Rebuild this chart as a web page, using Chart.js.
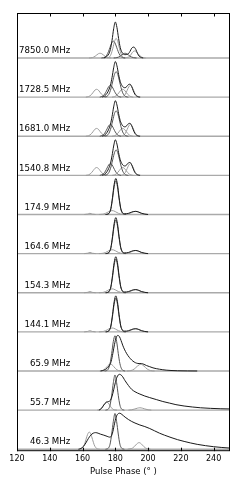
<!DOCTYPE html>
<html>
<head>
<meta charset="utf-8">
<script src="https://cdn.jsdelivr.net/npm/chart.js@4"></script>
<style>
  html, body { margin: 0; padding: 0; background: #fff; }
  canvas { display: block; }
</style>
</head>
<body>
<canvas id="profiles" width="240" height="489"></canvas>
<script>
// frequency labels, bottom panel first
const freqLabels = ['46.3 MHz', '55.7 MHz', '65.9 MHz', '144.1 MHz', '154.3 MHz', '164.6 MHz',
  '174.9 MHz', '1540.8 MHz', '1681.0 MHz', '1728.5 MHz', '7850.0 MHz'];
const xTicks = [120, 140, 160, 180, 200, 220, 240];

// [phase (deg), intensity], 1 unit = panel spacing
const baseline = [[120, 0], [250, 0]];

// 7850 MHz
const total7850 = [[173,0],[174.5,0.03],[176,0.1],[177,0.22],[178,0.45],[179,0.75],[180,0.92],[181,0.78],[182,0.5],[183,0.27],[184,0.15],[185,0.1],[186,0.085],[187,0.09],[188,0.11],[189,0.17],[190,0.25],[191.3,0.28],[192.5,0.22],[193.5,0.12],[194.5,0.05],[196,0.01],[197,0]];
const compA7850 = [[171.5,0],[172.8,0.008],[173.8,0.027],[174.8,0.073],[175.8,0.16],[176.8,0.275],[177.8,0.385],[178.8,0.43],[179.8,0.385],[180.8,0.275],[181.8,0.16],[182.8,0.073],[183.8,0.027],[184.8,0.008],[186,0]];
const compB7850 = [[175,0],[176.5,0.03],[177.5,0.105],[178.5,0.25],[179.5,0.42],[180.5,0.5],[181.5,0.42],[182.5,0.25],[183.5,0.105],[184.5,0.03],[186,0]];
const compC7850 = [[164,0],[166,0.01],[167.7,0.045],[169.7,0.11],[170.7,0.12],[171.7,0.11],[173.7,0.045],[175.7,0.01],[177.5,0]];
const compD7850 = [[185,0],[186.8,0.01],[188.8,0.045],[190.8,0.16],[191.8,0.18],[192.8,0.16],[194.8,0.065],[196.8,0.01],[198.5,0]];
const compE7850 = [[179,0],[181,0.01],[183,0.045],[185,0.11],[186,0.12],[187,0.11],[189,0.045],[191,0.01],[193,0]];

// 1540.8 - 1728.5 MHz
const totalL = [[172,0],[173.5,0.03],[175,0.1],[176,0.18],[177,0.3],[178,0.5],[179,0.75],[180,0.91],[181,0.8],[182,0.58],[183,0.4],[184,0.3],[185,0.25],[186,0.24],[187,0.27],[188,0.32],[189,0.33],[190,0.27],[191,0.16],[192,0.07],[193.5,0.015],[195,0]];
const mainL = [[173.5,0],[174.5,0.012],[175.5,0.04],[176.5,0.11],[177.5,0.24],[178.5,0.416],[179.5,0.58],[180.5,0.65],[181.5,0.58],[182.5,0.416],[183.5,0.24],[184.5,0.11],[185.5,0.04],[186.5,0.012],[188,0]];
const leadL = [[170.5,0],[172,0.019],[173,0.05],[174,0.11],[175,0.19],[176,0.27],[177,0.3],[178,0.27],[179,0.19],[180,0.11],[181,0.05],[182,0.019],[183.5,0]];
const leftL = [[162,0],[163.6,0.0125],[164.6,0.034],[165.6,0.074],[166.6,0.128],[167.6,0.18],[168.6,0.2],[169.6,0.18],[170.6,0.128],[171.6,0.074],[172.6,0.034],[173.6,0.0125],[175,0]];
const rightL = [[183.5,0],[185.2,0.03],[186.2,0.08],[187.2,0.17],[188.2,0.26],[189.2,0.3],[190.2,0.26],[191.2,0.17],[192.2,0.08],[193.2,0.03],[194.5,0.007],[195.5,0]];
const midL = [[178,0],[179.5,0.0125],[180.5,0.034],[181.5,0.074],[182.5,0.128],[183.5,0.18],[184.5,0.2],[185.5,0.18],[186.5,0.128],[187.5,0.074],[188.5,0.034],[189.5,0.0125],[191,0]];

// 144.1 - 174.9 MHz
const totalM = [[174,0],[175.3,0.01],[176.3,0.04],[177.3,0.15],[178.3,0.44],[179.3,0.77],[180.3,0.92],[181.3,0.77],[182.3,0.44],[183.3,0.16],[184.3,0.05],[185.5,0.02],[187,0.02],[189,0.045],[191,0.075],[192.5,0.08],[194,0.065],[196,0.03],[198,0.01],[200,0]];
const mainM = [[174.5,0],[175.3,0.007],[176.3,0.04],[177.3,0.15],[178.3,0.4],[179.3,0.71],[180.3,0.86],[181.3,0.71],[182.3,0.4],[183.3,0.15],[184.3,0.04],[185.3,0.007],[186.5,0]];
const broadM = [[170,0],[172,0.006],[173,0.0145],[174,0.029],[175,0.05],[176,0.074],[177,0.093],[178,0.1],[179,0.093],[180,0.074],[181,0.05],[182,0.029],[183,0.0145],[184,0.006],[186,0]];
const rightM = [[185,0],[186.5,0.005],[188.5,0.023],[190.5,0.059],[191.5,0.074],[192.5,0.08],[193.5,0.074],[194.5,0.059],[196.5,0.023],[198.5,0.005],[200,0]];
const leftM = [[161,0],[163,0.01],[164.5,0.03],[166,0.01],[168,0]];

// 65.9 MHz
const scat659 = [[171,0],[173,0.02],[175,0.07],[176.5,0.15],[177.5,0.25],[178.5,0.45],[179.5,0.68],[180.5,0.85],[181.5,0.91],[182.5,0.88],[183.5,0.78],[184.5,0.66],[185.5,0.56],[187,0.44],[188.5,0.35],[190,0.28],[191.5,0.23],[193,0.2],[194.5,0.19],[196,0.19],[197.5,0.17],[199,0.14],[201,0.11],[203,0.08],[205,0.06],[207,0.045],[209,0.032],[211,0.022],[214,0.013],[218,0.006],[224,0.002],[230,0]];
const narrow659 = [[173.5,0],[174.8,0.012],[175.8,0.056],[176.8,0.19],[177.8,0.45],[178.8,0.757],[179.8,0.9],[180.8,0.757],[181.8,0.45],[182.8,0.19],[183.8,0.056],[184.8,0.012],[186,0]];
const left659 = [[170.5,0],[172,0.011],[173,0.03],[174,0.067],[175,0.115],[176,0.16],[177,0.18],[178,0.16],[179,0.115],[180,0.067],[181,0.03],[182,0.011],[183.5,0]];
const right659 = [[187,0],[188.5,0.004],[189.5,0.011],[190.5,0.025],[191.5,0.049],[192.5,0.085],[193.5,0.125],[194.5,0.157],[195.5,0.17],[196.5,0.157],[197.5,0.125],[198.5,0.085],[199.5,0.049],[200.5,0.025],[201.5,0.011],[202.5,0.004],[204,0]];

// 55.7 MHz
const scat557 = [[170,0],[171.5,0.04],[173,0.13],[174.5,0.2],[176,0.22],[177,0.25],[178,0.35],[179,0.52],[180,0.7],[181,0.84],[182.5,0.915],[184,0.88],[186,0.75],[188,0.63],[190,0.53],[192,0.47],[195,0.41],[198,0.36],[201,0.32],[205,0.27],[209,0.22],[213,0.18],[217,0.14],[222,0.105],[227,0.08],[232,0.06],[238,0.045],[244,0.035],[250,0.03]];
const narrow557 = [[174,0],[175.8,0.029],[176.8,0.13],[177.8,0.38],[178.8,0.7],[179.8,0.9],[180.8,0.7],[181.8,0.38],[182.8,0.13],[183.8,0.029],[185.5,0]];
const left557 = [[169,0],[170.2,0.005],[170.7,0.02],[171.7,0.055],[172.7,0.12],[173.7,0.18],[174.7,0.21],[175.7,0.18],[176.7,0.12],[177.7,0.055],[178.7,0.02],[179.7,0.005],[181,0]];
const right557 = [[188,0],[190,0.009],[192,0.03],[193.5,0.05],[195,0.06],[196.5,0.05],[198,0.03],[200,0.009],[202,0]];

// 46.3 MHz
const scat463 = [[157.5,0],[159,0.02],[160.5,0.07],[162,0.16],[163.5,0.27],[165,0.36],[166.5,0.41],[168,0.425],[169.5,0.41],[171,0.385],[173,0.36],[175,0.33],[176.5,0.31],[177.5,0.33],[178.5,0.45],[179.5,0.65],[180.5,0.82],[181.5,0.9],[182.8,0.92],[184,0.89],[186,0.82],[188,0.76],[190,0.71],[192,0.67],[195,0.62],[198,0.58],[201,0.53],[204,0.47],[207,0.41],[210,0.36],[214,0.3],[218,0.245],[222,0.2],[226,0.16],[230,0.125],[235,0.092],[240,0.065],[245,0.045],[250,0.03]];
const narrow463 = [[174,0],[175.8,0.03],[176.8,0.13],[177.8,0.39],[178.8,0.71],[179.8,0.915],[180.8,0.71],[181.8,0.39],[182.8,0.13],[183.8,0.03],[185.5,0]];
const left463 = [[158,0],[159.1,0.01],[160.1,0.04],[161.1,0.115],[162.1,0.25],[163.1,0.38],[164.1,0.44],[165.1,0.38],[166.1,0.25],[167.1,0.115],[168.1,0.04],[169.1,0.01],[170.5,0]];
const right463 = [[187.5,0],[189,0.01],[190.5,0.03],[191.5,0.065],[192.5,0.11],[193.5,0.15],[194.5,0.17],[195.5,0.15],[196.5,0.11],[197.5,0.065],[198.5,0.03],[200,0.01],[201.5,0]];

// which curves go in which panel (bottom to top)
const panels = [
  { black: [scat463], dark: [narrow463], gray: [left463, right463] },
  { black: [scat557], dark: [narrow557], gray: [left557, right557] },
  { black: [scat659], dark: [narrow659], gray: [left659, right659] },
  { black: [totalM], dark: [mainM], gray: [broadM, rightM, leftM] },
  { black: [totalM], dark: [mainM], gray: [broadM, rightM, leftM] },
  { black: [totalM], dark: [mainM], gray: [broadM, rightM, leftM] },
  { black: [totalM], dark: [mainM], gray: [broadM, rightM, leftM] },
  { black: [totalL], dark: [mainL, leadL], gray: [leftL, rightL, midL] },
  { black: [totalL], dark: [mainL, leadL], gray: [leftL, rightL, midL] },
  { black: [totalL], dark: [mainL, leadL], gray: [leftL, rightL, midL] },
  { black: [total7850], dark: [compA7850, compE7850], gray: [compB7850, compC7850, compD7850] }
];

const line = (pts, off, color, width, order) => ({
  data: pts.map(([p, v]) => ({ x: p, y: v + off })),
  borderColor: color,
  borderWidth: width,
  pointRadius: 0,
  fill: false,
  cubicInterpolationMode: 'monotone',
  order: order
});

const datasets = [];
panels.forEach((p, i) => {
  datasets.push(line(baseline, i, '#aaaaaa', 1.4, 3));
  p.gray.forEach(c => datasets.push(line(c, i, '#9c9c9c', 1, 2)));
  p.dark.forEach(c => datasets.push(line(c, i, '#555555', 1, 1)));
  p.black.forEach(c => datasets.push(line(c, i, '#1a1a1a', 1, 0)));
});

// frame, inward ticks and frequency labels
const decor = {
  id: 'decor',
  afterDraw(chart) {
    const { ctx, chartArea: a, scales: { x, y } } = chart;
    ctx.save();
    ctx.strokeStyle = '#000';
    ctx.lineWidth = 1;
    ctx.strokeRect(a.left + 0.5, a.top + 0.5, a.right - a.left - 1, a.bottom - a.top - 1);
    ctx.beginPath();
    x.ticks.forEach(t => {
      const px = Math.round(x.getPixelForValue(t.value)) + 0.5;
      ctx.moveTo(px, a.bottom);
      ctx.lineTo(px, a.bottom - 3.5);
      ctx.moveTo(px, a.top);
      ctx.lineTo(px, a.top + 3.5);
    });
    ctx.stroke();
    ctx.font = '8.6px "DejaVu Sans"';
    ctx.fillStyle = '#000';
    ctx.textAlign = 'right';
    ctx.textBaseline = 'middle';
    freqLabels.forEach((lab, i) => {
      ctx.fillText(lab, x.getPixelForValue(152.5), y.getPixelForValue(i + 0.18));
    });
    ctx.restore();
  }
};

new Chart(document.getElementById('profiles'), {
  type: 'line',
  data: { datasets },
  options: {
    responsive: false,
    animation: false,
    devicePixelRatio: 1,
    layout: { padding: { left: 17, right: 10, top: 13, bottom: 11 } },
    plugins: { legend: { display: false }, tooltip: { enabled: false } },
    scales: {
      x: {
        type: 'linear',
        min: 120,
        max: 250,
        afterBuildTicks: s => { s.ticks = xTicks.map(v => ({ value: v })); },
        ticks: { includeBounds: false, padding: 3, color: '#000', font: { family: 'DejaVu Sans', size: 8 } },
        grid: { display: false, drawTicks: false },
        border: { display: false },
        title: { display: true, text: 'Pulse Phase (° )', color: '#000', padding: { top: 0, bottom: 1 }, font: { family: 'DejaVu Sans', size: 8.5 } }
      },
      y: { type: 'linear', display: false, min: -0.05, max: 11.15 }
    }
  },
  plugins: [decor]
});
</script>
</body>
</html>
